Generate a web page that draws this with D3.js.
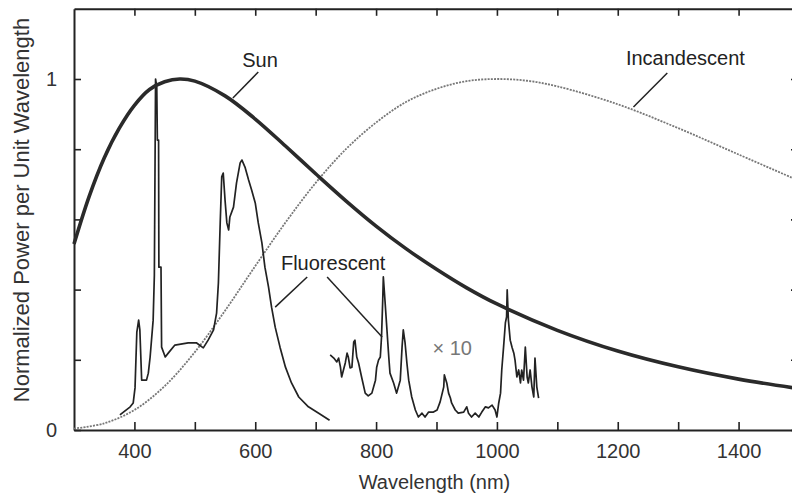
<!DOCTYPE html>
<html>
<head>
<meta charset="utf-8">
<script src="https://cdn.jsdelivr.net/npm/d3@7"></script>
<style>
  html, body { margin: 0; padding: 0; background: #fff; }
  svg { display: block; }
  text { font-family: "Liberation Sans", Arial, sans-serif; }
</style>
</head>
<body>
<svg id="chart" width="792" height="495"></svg>
<script>
// ---------- data ----------
const sunWl  = [300,325,350,375,400,425,450,475,500,550,600,650,700,750,800,850,900,950,1000,1100,1200,1300,1400,1500];
const sunVal = [0.53,0.665,0.775,0.86,0.925,0.97,0.992,1.0,0.994,0.952,0.886,0.809,0.73,0.653,0.581,0.516,0.458,0.405,0.359,0.284,0.225,0.18,0.145,0.118];

const incWl  = [300,350,400,450,500,550,600,650,700,750,800,850,900,950,1000,1050,1100,1200,1300,1400,1500];
const incVal = [0.004,0.019,0.057,0.125,0.222,0.34,0.467,0.591,0.704,0.80,0.876,0.935,0.972,0.994,1.0,0.995,0.979,0.928,0.86,0.785,0.71];

const fluVisWl  = [376,393,398,401,404,407,409,412,420,423,426,431,433,435,437,438,440,440.5,444,445,451,456,467,489,503,514,522,531,536,539,542,544.5,547,550,553,556,558,564,569,575,578,583,589,594,600,605,611,616,622,627,633,641,650,660,672,688,705,723];
const fluVisVal = [0.043,0.066,0.077,0.12,0.279,0.313,0.285,0.142,0.142,0.162,0.208,0.313,0.44,1.0,0.977,0.826,0.826,0.464,0.464,0.236,0.208,0.219,0.242,0.248,0.248,0.234,0.256,0.285,0.333,0.419,0.59,0.721,0.732,0.655,0.59,0.57,0.607,0.635,0.704,0.761,0.769,0.749,0.712,0.684,0.647,0.59,0.533,0.464,0.407,0.35,0.293,0.236,0.179,0.134,0.094,0.066,0.048,0.028];

// infrared part, shown magnified x10
const fluIrWl  = [724,730,735,738,741,743,746,749,752,754,757,760,763,765,768,771,776,782,787,793,799,801,804,807,809,811,812,815,818,821,823,829,834,840,843,845,848,851,854,859,865,870,876,881,887,895,901,906,912,913,917,920,923,925,931,936,945,950,953,958,964,970,975,981,986,992,997,1000,1003,1006,1008,1011,1014,1016,1017,1019,1022,1025,1028,1030,1033,1036,1039,1041,1044,1047,1050,1052,1055,1058,1061,1063,1066,1069];
const fluIrVal = [0.214,0.205,0.194,0.205,0.179,0.151,0.171,0.191,0.219,0.208,0.177,0.179,0.251,0.256,0.208,0.191,0.151,0.105,0.097,0.105,0.142,0.179,0.199,0.208,0.265,0.37,0.436,0.362,0.285,0.208,0.162,0.134,0.105,0.142,0.236,0.285,0.248,0.191,0.142,0.094,0.057,0.037,0.048,0.037,0.051,0.051,0.057,0.08,0.123,0.157,0.134,0.105,0.091,0.077,0.057,0.048,0.051,0.066,0.048,0.037,0.048,0.037,0.051,0.066,0.063,0.071,0.057,0.037,0.077,0.105,0.171,0.236,0.305,0.322,0.399,0.313,0.256,0.236,0.219,0.199,0.151,0.171,0.134,0.171,0.142,0.236,0.151,0.134,0.171,0.123,0.094,0.205,0.123,0.091];

const xTicks = [400,500,600,700,800,900,1000,1100,1200,1300,1400,1500];
const xTickLabels = [400,600,800,1000,1200,1400];
const yTicks = [0,0.2,0.4,0.6,0.8,1.0];
const yTickLabels = [0,1];

// annotations in data units
const labels = [
  {text:"Sun",          wl:608,  v:1.034, color:"#222"},
  {text:"Incandescent", wl:1312, v:1.04,  color:"#222"},
  {text:"Fluorescent",  wl:729,  v:0.456, color:"#222"},
  {text:"\u00d7 10",    wl:926,  v:0.214, color:"#777"}
];
const pointers = [
  {wl1:605,  v1:1.02,  wl2:563,  v2:0.946},
  {wl1:1282, v1:1.017, wl2:1226, v2:0.92},
  {wl1:686,  v1:0.436, wl2:633,  v2:0.35},
  {wl1:719,  v1:0.436, wl2:810,  v2:0.265}
];

// ---------- drawing ----------
const svg = d3.select("#chart");
const x = d3.scaleLinear().domain([300,1500]).range([74,799]);
const y = d3.scaleLinear().domain([0,1.2]).range([430,8.8]);
const ink = "#222";

// axes
const gB = svg.append("g").attr("transform","translate(0,430)")
  .call(d3.axisBottom(x).tickValues(xTicks).tickSizeInner(-8).tickSizeOuter(0).tickPadding(14)
    .tickFormat(d => xTickLabels.includes(d) ? d : ""));
const gT = svg.append("g").attr("transform","translate(0,8.8)")
  .call(d3.axisTop(x).tickValues(xTicks).tickSizeInner(-7).tickSizeOuter(0).tickFormat(""));
const gL = svg.append("g").attr("transform","translate(74,0)")
  .call(d3.axisLeft(y).tickValues(yTicks).tickSizeInner(-7).tickSizeOuter(0).tickPadding(17)
    .tickFormat(d => yTickLabels.includes(d) ? d3.format("d")(d) : ""));
const gR = svg.append("g").attr("transform","translate(799,0)")
  .call(d3.axisRight(y).tickValues(yTicks).tickSizeInner(-8).tickSizeOuter(0).tickFormat(""));

[gB,gT,gL,gR].forEach(g => {
  g.select(".domain").attr("stroke",ink).attr("stroke-width",2);
  g.selectAll(".tick line").attr("stroke",ink).attr("stroke-width",1.6);
  g.selectAll(".tick text").attr("font-size",20).attr("fill","#333")
    .attr("font-family","'Liberation Sans', Arial, sans-serif");
});

// axis titles
svg.append("text").attr("x",(x(300)+x(1500))/2 - 2).attr("y",489)
  .attr("text-anchor","middle").attr("font-size",20).attr("fill","#333")
  .text("Wavelength (nm)");
svg.append("text").attr("transform","translate(29,210) rotate(-90)")
  .attr("text-anchor","middle").attr("font-size",22).attr("fill","#333")
  .text("Normalized Power per Unit Wavelength");

// curves
const smooth = d3.line().x(d => x(d[0])).y(d => y(d[1])).curve(d3.curveCatmullRom);
const sharp  = d3.line().x(d => x(d[0])).y(d => y(d[1]));

svg.append("path").datum(d3.zip(incWl, incVal)).attr("d", smooth)
  .attr("fill","none").attr("stroke","#777").attr("stroke-width",1.8)
  .attr("stroke-dasharray","2,1.2");

svg.append("path").datum(d3.zip(fluVisWl, fluVisVal)).attr("d", sharp)
  .attr("fill","none").attr("stroke",ink).attr("stroke-width",1.7).attr("stroke-linejoin","round");
svg.append("path").datum(d3.zip(fluIrWl, fluIrVal)).attr("d", sharp)
  .attr("fill","none").attr("stroke",ink).attr("stroke-width",1.7).attr("stroke-linejoin","round");

svg.append("path").datum(d3.zip(sunWl, sunVal)).attr("d", smooth)
  .attr("fill","none").attr("stroke","#2a2a2a").attr("stroke-width",3.6);

// annotations
svg.selectAll("line.ptr").data(pointers).enter().append("line").attr("class","ptr")
  .attr("x1", d => x(d.wl1)).attr("y1", d => y(d.v1))
  .attr("x2", d => x(d.wl2)).attr("y2", d => y(d.v2))
  .attr("stroke", ink).attr("stroke-width",1.5);

svg.selectAll("text.lbl").data(labels).enter().append("text").attr("class","lbl")
  .attr("x", d => x(d.wl)).attr("y", d => y(d.v))
  .attr("text-anchor","middle").attr("font-size",20).attr("fill", d => d.color)
  .text(d => d.text);
</script>
</body>
</html>
